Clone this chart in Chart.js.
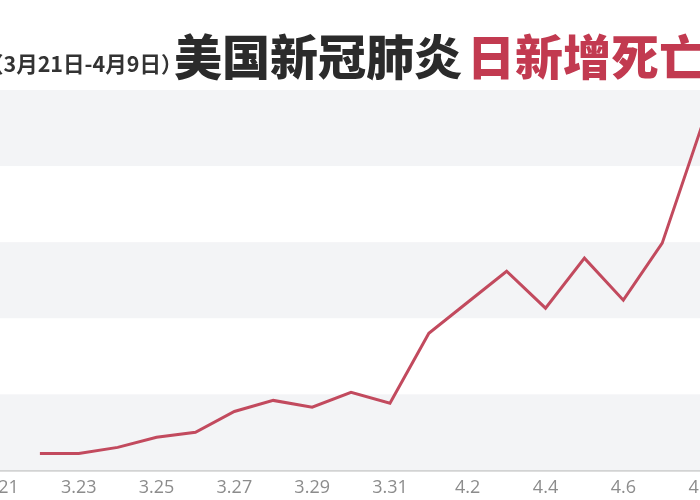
<!DOCTYPE html>
<html>
<head>
<meta charset="utf-8">
<script src="https://cdn.jsdelivr.net/npm/chart.js@4/dist/chart.umd.min.js"></script>
<style>
    html,body{margin:0;padding:0;background:#fff;}
    #marco{position:relative;width:700px;height:500px;overflow:hidden;background:#fff;}
    #lienzo{position:absolute;left:-40px;top:0;width:800px;height:507px;}
    .t{position:absolute;white-space:nowrap;font-family:"Noto Sans CJK SC",sans-serif;}
    #fechas{left:-18px;top:48px;font-size:21.5px;line-height:30px;font-weight:700;color:#333;}
    #negro{left:174px;top:26px;font-size:48px;line-height:56px;font-weight:900;color:#2b2b2b;}
    #rojo{left:467px;top:26px;font-size:48px;line-height:56px;font-weight:900;color:#c23a50;}
</style>
</head>
<body>
<div id="marco">
    <div id="lienzo"><canvas id="Grafico1"></canvas></div>
    <div class="t" id="fechas">（3月21日-4月9日）</div>
    <div class="t" id="negro">美国新冠肺炎</div>
    <div class="t" id="rojo">日新增死亡</div>
</div>
<script>
// dias (3.21 - 4.9)
let dias=['3.21','3.22','3.23','3.24','3.25','3.26','3.27','3.28','3.29','3.30','3.31',
          '4.1','4.2','4.3','4.4','4.5','4.6','4.7','4.8','4.9'];
// muertes diarias estimadas (3.21 no se ve en la imagen)
let muertes=[null,89,89,121,174,200,310,368,332,410,353,721,884,1047,853,1116,895,1195,1800,1780];
// rango del eje y (sin etiquetas visibles)
let yMin=0;
let yMax=2000;
let yPaso=400;

// franjas grises alternas entre las marcas del eje y
let franjas={
    id:'franjas',
    beforeDatasetsDraw(chart){
        let ctx=chart.ctx;
        let y=chart.scales.y;
        let ticks=y.ticks;
        ctx.save();
        for(let i=0;i<ticks.length-1;i++){
            if(i%2!=0) continue;
            let y0=y.getPixelForValue(ticks[i].value);
            let y1=y.getPixelForValue(ticks[i+1].value);
            ctx.fillStyle='#f3f4f6';
            ctx.fillRect(0,y1,chart.width,y0-y1);
        }
        ctx.restore();
    }
};

let CanvasG1=document.getElementById('Grafico1').getContext('2d');
let datos={
    labels:dias,
    datasets:[{
        data:muertes,
        borderColor:'#c24a5e',
        borderWidth:3,
        pointRadius:0,
        tension:0,
        fill:false,
    }]
};
let opciones={
    responsive:true,
    maintainAspectRatio:false,
    animation:false,
    layout:{padding:{left:33,right:20,top:90,bottom:1}},
    plugins:{legend:{display:false},tooltip:{enabled:false}},
    scales:{
        x:{
            offset:false,
            grid:{display:false,drawTicks:false},
            border:{display:true,color:'#bdbdbd',width:1.5},
            ticks:{
                autoSkip:false,
                maxRotation:0,
                padding:7,
                color:'#8c8c8c',
                font:{family:'Open Sans',size:18},
                callback:function(v,i){return i%2==0?dias[i]:'';}
            }
        },
        y:{
            min:yMin,
            max:yMax,
            grid:{display:false},
            border:{display:false},
            ticks:{display:false,stepSize:yPaso}
        }
    }
};
let G1=new Chart(CanvasG1,{
    type:'line',
    data:datos,
    options:opciones,
    plugins:[franjas]
});
</script>
</body>
</html>
